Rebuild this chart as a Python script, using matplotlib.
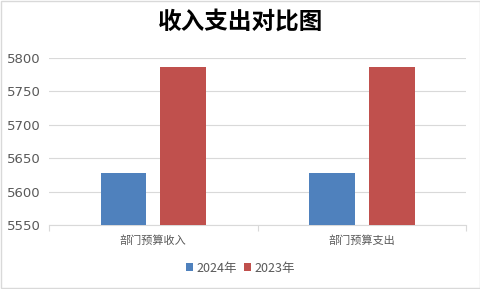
import numpy as np
import matplotlib.pyplot as plt

plt.rcParams['font.family'] = ['Noto Sans CJK SC', 'DejaVu Sans']

categories = ["部门预算收入", "部门预算支出"]
series_names = ["2024年", "2023年"]
values_2024 = [5628, 5628]
values_2023 = [5786, 5786]
colors = ["#4f81bd", "#c0504d"]
yticks = [5550, 5600, 5650, 5700, 5750, 5800]

fig = plt.figure(figsize=(4.81, 2.89), dpi=100)
ax = fig.add_axes([0.102, 0.221, 0.867, 0.578])

x = np.arange(len(categories))
w = 0.22
ax.bar(x - 0.143, values_2024, w, color=colors[0], label=series_names[0], zorder=3)
ax.bar(x + 0.143, values_2023, w, color=colors[1], label=series_names[1], zorder=3)

ax.set_xlim(-0.5, 1.5)
ax.set_ylim(5550, 5800)
ax.set_yticks(yticks)
ax.grid(axis='y', color='#d9d9d9', linewidth=0.8, zorder=0)
for s in ['left', 'right', 'top']:
    ax.spines[s].set_visible(False)
ax.spines['bottom'].set_color('#d9d9d9')
ax.tick_params(axis='y', length=0, labelcolor='#595959', pad=6)
for lab in ax.get_yticklabels():
    lab.set_fontfamily('DejaVu Sans')
    lab.set_fontsize(9.5)
ax.set_xticks([-0.5, 0.5, 1.5])
ax.set_xticklabels([])
ax.set_xticks(x, minor=True)
ax.set_xticklabels(categories, minor=True)
ax.tick_params(axis='x', which='major', length=4, color='#d9d9d9')
ax.tick_params(axis='x', which='minor', length=0, labelsize=8, labelcolor='#595959', pad=7)

fig.text(0.5, 0.925, "收入支出对比图", ha='center', va='center', fontsize=17, fontweight='bold')

leg = fig.legend(loc='center', bbox_to_anchor=(0.5, 0.072), ncol=2, frameon=False,
                 fontsize=9, handlelength=0.6, handleheight=0.6, handletextpad=0.3,
                 columnspacing=0.5)
for t in leg.get_texts():
    t.set_color('#595959')

fig.patches.append(plt.Rectangle((0.002, 0.003), 0.996, 0.994, transform=fig.transFigure,
                                 fill=False, edgecolor='#d9d9d9', linewidth=1))

fig.savefig("out.png", dpi=100)
